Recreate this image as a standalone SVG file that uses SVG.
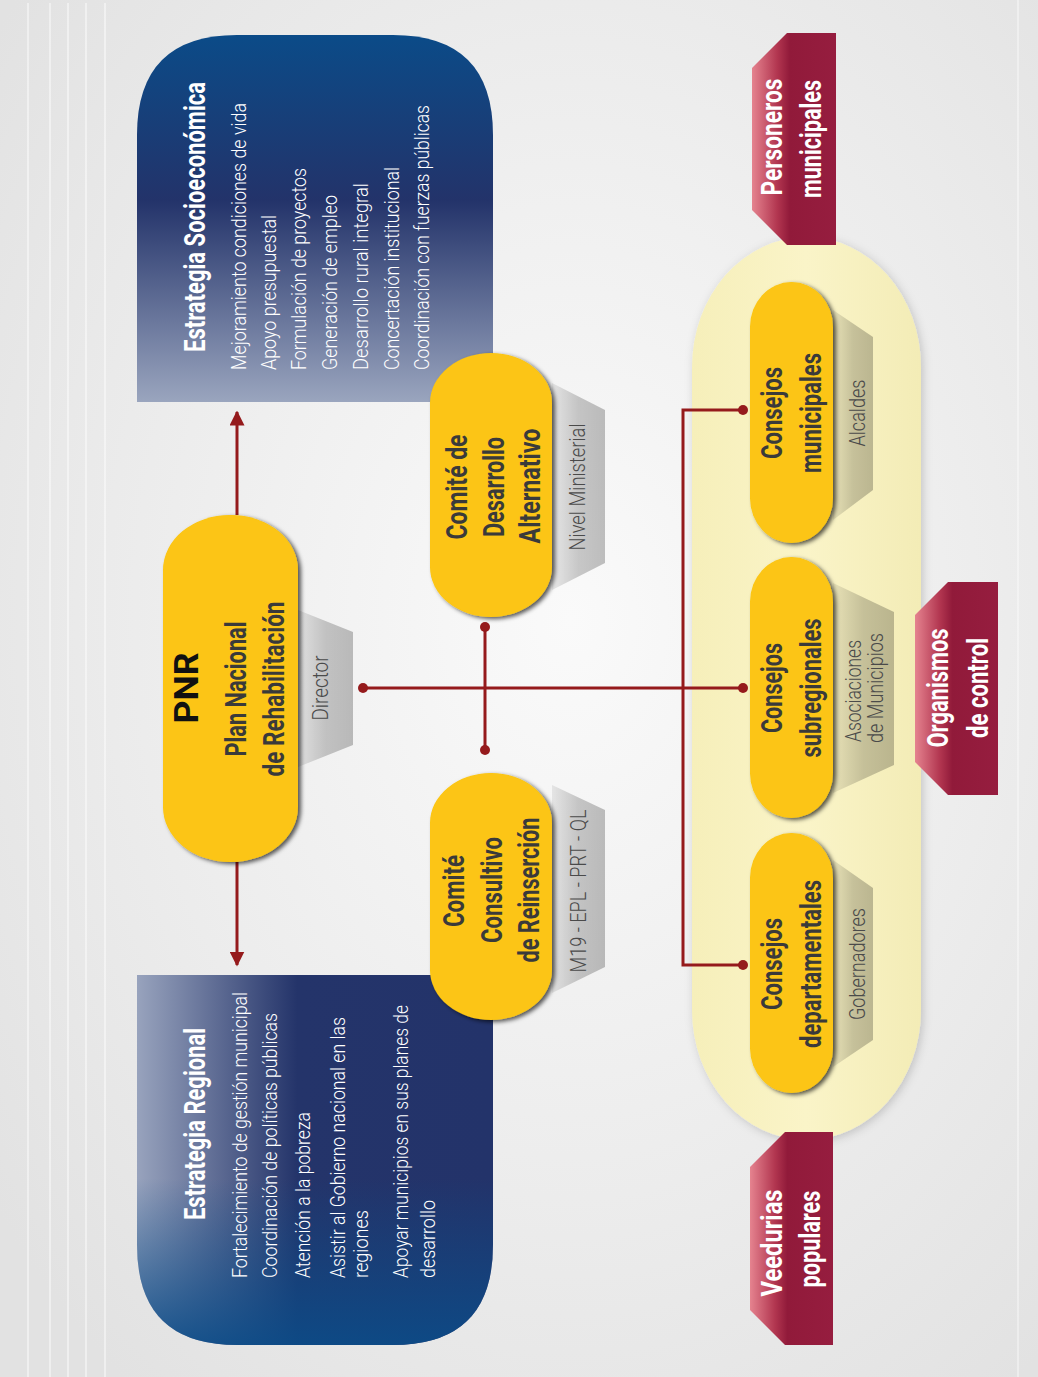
<svg xmlns="http://www.w3.org/2000/svg" width="1038" height="1377" viewBox="0 0 1038 1377">
<style>
text{font-family:Roboto,"Liberation Sans",sans-serif}
.tt{font-weight:700;fill:#fff;font-size:29px}
.tb{font-weight:300;fill:#fff;font-size:20px}
.tn{font-weight:700;fill:#3a3a3a;font-size:30px}
.ts{font-weight:300;fill:#4a4a4a;font-size:22px}
.tr{font-weight:700;fill:#fff;font-size:30px}
.pill{fill:#fcc512;filter:url(#sh)}
.trap{fill:url(#gTrap)}
.red{fill:url(#gRed)}
.ln{stroke:#951a1c;stroke-width:3;fill:none}
.dot{fill:#951a1c}
</style>
<defs>
<radialGradient id="gBg" cx="0.55" cy="0.45" r="0.7">
<stop offset="0" stop-color="#fafafa"/><stop offset="0.6" stop-color="#ececec"/><stop offset="1" stop-color="#e2e2e2"/>
</radialGradient>
<linearGradient id="gSocio" x1="0" y1="0" x2="0" y2="1">
<stop offset="0" stop-color="#0b4b88"/><stop offset="0.45" stop-color="#23336a"/><stop offset="1" stop-color="#9aa5be"/>
</linearGradient>
<linearGradient id="gReg" x1="0" y1="0" x2="1" y2="0">
<stop offset="0" stop-color="#98a3bd"/><stop offset="0.45" stop-color="#24346a"/><stop offset="1" stop-color="#23336a"/>
</linearGradient>
<linearGradient id="gReg2" x1="0" y1="0" x2="0" y2="1">
<stop offset="0.55" stop-color="#0b4c88" stop-opacity="0"/><stop offset="1" stop-color="#0b4c88" stop-opacity="0.9"/>
</linearGradient>
<linearGradient id="gTrap" x1="0" y1="0" x2="1" y2="0">
<stop offset="0" stop-color="#000" stop-opacity="0.07"/><stop offset="0.5" stop-color="#000" stop-opacity="0.2"/><stop offset="1" stop-color="#000" stop-opacity="0.24"/>
</linearGradient>
<linearGradient id="gRed" x1="0" y1="0" x2="1" y2="0">
<stop offset="0" stop-color="#e5838f"/><stop offset="0.3" stop-color="#b23650"/><stop offset="0.45" stop-color="#911a3a"/><stop offset="1" stop-color="#961d3f"/>
</linearGradient>
<linearGradient id="gYel" x1="0" y1="0" x2="1" y2="0">
<stop offset="0" stop-color="#f6efba"/><stop offset="0.5" stop-color="#faf4c8"/><stop offset="1" stop-color="#f3ecb6"/>
</linearGradient>
<filter id="sh" x="-20%" y="-20%" width="150%" height="150%">
<feDropShadow dx="3" dy="2" stdDeviation="2" flood-color="#000" flood-opacity="0.65"/>
</filter>
<filter id="soft" x="-20%" y="-20%" width="140%" height="140%">
<feDropShadow dx="2" dy="2" stdDeviation="5" flood-color="#000" flood-opacity="0.18"/>
</filter>
<marker id="ah" viewBox="0 0 10 10" refX="9" refY="5" markerWidth="5" markerHeight="5" orient="auto">
<path d="M0,0 L10,5 L0,10 Z" fill="#951a1c"/>
</marker>
</defs>

<g id="background">
<rect width="1038" height="1377" fill="url(#gBg)"/>
<g stroke="#fff" stroke-opacity="0.6" stroke-width="1.5">
<line x1="28" y1="3" x2="28" y2="1377"/><line x1="50" y1="3" x2="50" y2="1377"/><line x1="68" y1="3" x2="68" y2="1377"/><line x1="86" y1="3" x2="86" y2="1377"/><line x1="105" y1="3" x2="105" y2="1377"/>
<line x1="1018" y1="0" x2="1018" y2="1377" stroke-opacity="0.5"/>
</g>
</g>

<g id="estrategia-socioeconomica">
<path d="M137,402 L137,135 Q137,35 237,35 L393,35 Q493,35 493,135 L493,402 Z" fill="url(#gSocio)"/>
<text class="tt" transform="translate(205,352) rotate(-90)" textLength="270" lengthAdjust="spacingAndGlyphs">Estrategia Socioeconómica</text>
<text class="tb" transform="translate(246,370) rotate(-90)" textLength="267" lengthAdjust="spacingAndGlyphs">Mejoramiento condiciones de vida</text>
<text class="tb" transform="translate(276,370) rotate(-90)" textLength="155" lengthAdjust="spacingAndGlyphs">Apoyo presupuestal</text>
<text class="tb" transform="translate(306,370) rotate(-90)" textLength="202" lengthAdjust="spacingAndGlyphs">Formulación de proyectos</text>
<text class="tb" transform="translate(337,370) rotate(-90)" textLength="175" lengthAdjust="spacingAndGlyphs">Generación de empleo</text>
<text class="tb" transform="translate(368,370) rotate(-90)" textLength="187" lengthAdjust="spacingAndGlyphs">Desarrollo rural integral</text>
<text class="tb" transform="translate(399,370) rotate(-90)" textLength="203" lengthAdjust="spacingAndGlyphs">Concertación institucional</text>
<text class="tb" transform="translate(429,370) rotate(-90)" textLength="265" lengthAdjust="spacingAndGlyphs">Coordinación con fuerzas públicas</text>
</g>

<g id="estrategia-regional">
<path d="M137,975 L493,975 L493,1245 Q493,1345 393,1345 L237,1345 Q137,1345 137,1245 Z" fill="url(#gReg)"/>
<path d="M137,975 L493,975 L493,1245 Q493,1345 393,1345 L237,1345 Q137,1345 137,1245 Z" fill="url(#gReg2)"/>
<text class="tt" transform="translate(205,1220) rotate(-90)" textLength="192" lengthAdjust="spacingAndGlyphs">Estrategia Regional</text>
<text class="tb" transform="translate(247,1278) rotate(-90)" textLength="286" lengthAdjust="spacingAndGlyphs">Fortalecimiento de gestión municipal</text>
<text class="tb" transform="translate(277,1278) rotate(-90)" textLength="265" lengthAdjust="spacingAndGlyphs">Coordinación de políticas públicas</text>
<text class="tb" transform="translate(310,1278) rotate(-90)" textLength="166" lengthAdjust="spacingAndGlyphs">Atención a la pobreza</text>
<text class="tb" transform="translate(345,1278) rotate(-90)" textLength="261" lengthAdjust="spacingAndGlyphs">Asistir al Gobierno nacional en las</text>
<text class="tb" transform="translate(368,1278) rotate(-90)" textLength="68" lengthAdjust="spacingAndGlyphs">regiones</text>
<text class="tb" transform="translate(408,1278) rotate(-90)" textLength="273" lengthAdjust="spacingAndGlyphs">Apoyar municipios en sus planes de</text>
<text class="tb" transform="translate(435,1278) rotate(-90)" textLength="78" lengthAdjust="spacingAndGlyphs">desarrollo</text>
</g>

<g id="zona-consejos">
<rect x="692" y="237" width="229" height="903" rx="114.5" ry="130" fill="url(#gYel)" filter="url(#soft)"/>
</g>

<g id="connectors">
<line class="ln" x1="237" y1="515" x2="237" y2="412" marker-end="url(#ah)"/>
<line class="ln" x1="237" y1="862" x2="237" y2="965" marker-end="url(#ah)"/>
<line class="ln" x1="363" y1="688" x2="743" y2="688"/>
<line class="ln" x1="485" y1="627" x2="485" y2="750"/>
<polyline class="ln" points="743,410 683,410 683,965 743,965"/>
<circle class="dot" cx="363" cy="688" r="5"/>
<circle class="dot" cx="743" cy="688" r="5"/>
<circle class="dot" cx="485" cy="627" r="5"/>
<circle class="dot" cx="485" cy="750" r="5"/>
<circle class="dot" cx="743" cy="410" r="5"/>
<circle class="dot" cx="743" cy="965" r="5"/>
</g>

<g id="pnr">
<polygon class="trap" points="298,610 353,632 353,745 298,767"/>
<rect class="pill" x="163" y="515" width="135" height="347" rx="67" ry="55"/>
<text transform="translate(198,688) rotate(-90)" text-anchor="middle" font-weight="700" font-size="34" fill="#111" textLength="71" lengthAdjust="spacingAndGlyphs">PNR</text>
<text class="tn" transform="translate(246,689) rotate(-90)" text-anchor="middle" textLength="135" lengthAdjust="spacingAndGlyphs">Plan Nacional</text>
<text class="tn" transform="translate(284,689) rotate(-90)" text-anchor="middle" textLength="175" lengthAdjust="spacingAndGlyphs">de Rehabilitación</text>
<text class="ts" transform="translate(328,688) rotate(-90)" text-anchor="middle" textLength="65" lengthAdjust="spacingAndGlyphs">Director</text>
</g>

<g id="comite-desarrollo-alternativo">
<polygon class="trap" points="552,383 605,410 605,563 552,590"/>
<rect class="pill" x="430" y="353" width="122" height="264" rx="61" ry="50"/>
<text class="tn" transform="translate(467,487) rotate(-90)" text-anchor="middle" textLength="105" lengthAdjust="spacingAndGlyphs">Comité de</text>
<text class="tn" transform="translate(504,487) rotate(-90)" text-anchor="middle" textLength="100" lengthAdjust="spacingAndGlyphs">Desarrollo</text>
<text class="tn" transform="translate(540,486) rotate(-90)" text-anchor="middle" textLength="115" lengthAdjust="spacingAndGlyphs">Alternativo</text>
<text class="ts" transform="translate(585,487) rotate(-90)" text-anchor="middle" textLength="127" lengthAdjust="spacingAndGlyphs">Nivel Ministerial</text>
</g>

<g id="comite-consultivo-reinsercion">
<polygon class="trap" points="552,785 605,810 605,967 552,993"/>
<rect class="pill" x="430" y="773" width="122" height="247" rx="61" ry="50"/>
<text class="tn" transform="translate(464,891) rotate(-90)" text-anchor="middle" textLength="72" lengthAdjust="spacingAndGlyphs">Comité</text>
<text class="tn" transform="translate(502,890) rotate(-90)" text-anchor="middle" textLength="106" lengthAdjust="spacingAndGlyphs">Consultivo</text>
<text class="tn" transform="translate(539,890) rotate(-90)" text-anchor="middle" textLength="145" lengthAdjust="spacingAndGlyphs">de Reinserción</text>
<text class="ts" transform="translate(586,891) rotate(-90)" text-anchor="middle" textLength="163" lengthAdjust="spacingAndGlyphs">M19 - EPL - PRT - QL</text>
</g>

<g id="consejos-municipales">
<polygon class="trap" points="833,310 873,337 873,490 833,520"/>
<rect class="pill" x="750" y="282" width="83" height="261" rx="41.5" ry="45"/>
<text class="tn" transform="translate(782,413) rotate(-90)" text-anchor="middle" textLength="92" lengthAdjust="spacingAndGlyphs">Consejos</text>
<text class="tn" transform="translate(821,413) rotate(-90)" text-anchor="middle" textLength="120" lengthAdjust="spacingAndGlyphs">municipales</text>
<text class="ts" transform="translate(865,413) rotate(-90)" text-anchor="middle" textLength="67" lengthAdjust="spacingAndGlyphs">Alcaldes</text>
</g>

<g id="consejos-subregionales">
<polygon class="trap" points="833,583 894,612 894,765 833,793"/>
<rect class="pill" x="750" y="557" width="83" height="261" rx="41.5" ry="45"/>
<text class="tn" transform="translate(782,688) rotate(-90)" text-anchor="middle" textLength="90" lengthAdjust="spacingAndGlyphs">Consejos</text>
<text class="tn" transform="translate(821,688) rotate(-90)" text-anchor="middle" textLength="139" lengthAdjust="spacingAndGlyphs">subregionales</text>
<text class="ts" transform="translate(861,691) rotate(-90)" text-anchor="middle" font-size="21" textLength="102" lengthAdjust="spacingAndGlyphs">Asociaciones</text>
<text class="ts" transform="translate(883,688) rotate(-90)" text-anchor="middle" font-size="21" textLength="110" lengthAdjust="spacingAndGlyphs">de Municipios</text>
</g>

<g id="consejos-departamentales">
<polygon class="trap" points="833,860 873,888 873,1040 833,1067"/>
<rect class="pill" x="750" y="833" width="83" height="260" rx="41.5" ry="45"/>
<text class="tn" transform="translate(782,964) rotate(-90)" text-anchor="middle" textLength="92" lengthAdjust="spacingAndGlyphs">Consejos</text>
<text class="tn" transform="translate(821,964) rotate(-90)" text-anchor="middle" textLength="168" lengthAdjust="spacingAndGlyphs">departamentales</text>
<text class="ts" transform="translate(865,964) rotate(-90)" text-anchor="middle" textLength="112" lengthAdjust="spacingAndGlyphs">Gobernadores</text>
</g>

<g id="personeros-municipales">
<polygon class="red" points="752,68 787,33 836,33 836,245 787,245 752,210"/>
<text class="tr" transform="translate(782,137) rotate(-90)" text-anchor="middle" textLength="117" lengthAdjust="spacingAndGlyphs">Personeros</text>
<text class="tr" transform="translate(821,139) rotate(-90)" text-anchor="middle" textLength="118" lengthAdjust="spacingAndGlyphs">municipales</text>
</g>

<g id="organismos-de-control">
<polygon class="red" points="915,615 948,582 998,582 998,795 948,795 915,762"/>
<text class="tr" transform="translate(948,688) rotate(-90)" text-anchor="middle" textLength="119" lengthAdjust="spacingAndGlyphs">Organismos</text>
<text class="tr" transform="translate(988,688) rotate(-90)" text-anchor="middle" textLength="100" lengthAdjust="spacingAndGlyphs">de control</text>
</g>

<g id="veedurias-populares">
<polygon class="red" points="750,1167 785,1132 833,1132 833,1345 785,1345 750,1310"/>
<text class="tr" transform="translate(782,1243) rotate(-90)" text-anchor="middle" textLength="107" lengthAdjust="spacingAndGlyphs">Veedurias</text>
<text class="tr" transform="translate(820,1239) rotate(-90)" text-anchor="middle" textLength="97" lengthAdjust="spacingAndGlyphs">populares</text>
</g>
</svg>
